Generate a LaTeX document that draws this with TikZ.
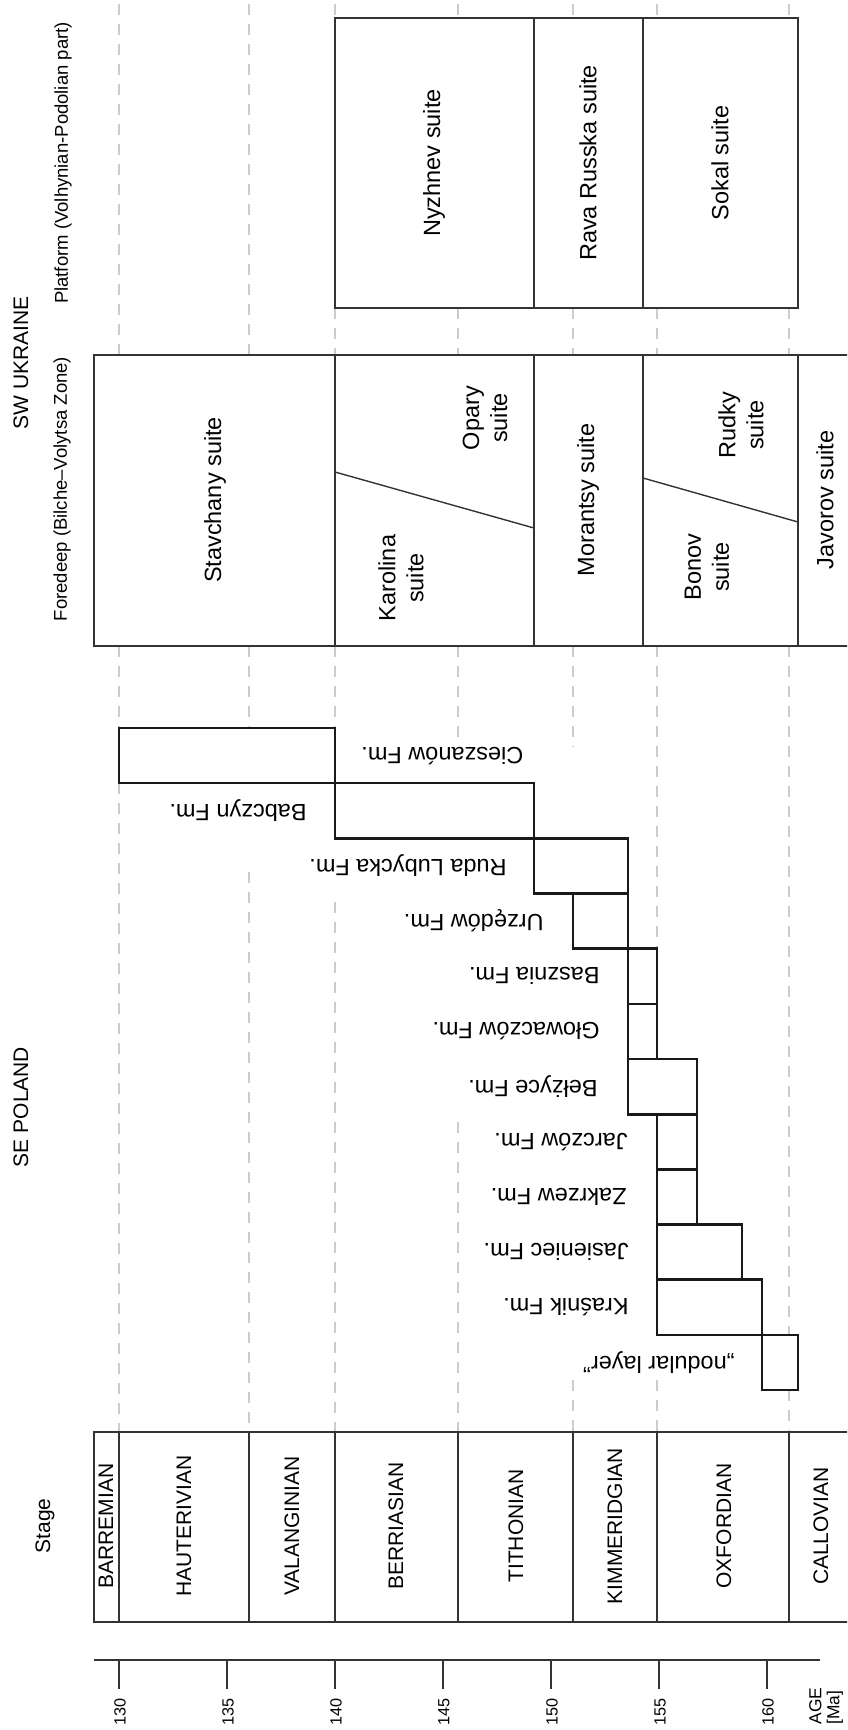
\documentclass[tikz,border=0pt]{standalone}
\usepackage{fontspec}
\setmainfont{Liberation Sans}

\def\stagefont{\fontsize{10.5}{12.6}\selectfont}
\def\suitefont{\fontsize{11.75}{14}\selectfont}
\def\headfont{\fontsize{10.5}{12.6}\selectfont}
\def\subfont{\fontsize{9.25}{11}\selectfont}
\def\agefont{\fontsize{8.1}{9}\selectfont}
\def\unitfont{\fontsize{8.7}{9}\selectfont}
\def\rowy#1{{728+55.17*(#1)}}
\colorlet{guide line}{black!20}
\colorlet{box edge}{black!80}
\tikzset{guide/.style={draw=guide line, line width=1.1pt, dash pattern=on 5.5pt off 4.5pt},
    outline/.style={draw=box edge, line width=0.7pt},
    fmbox/.style={draw=black!90, line width=1.3pt},
    vlabel/.style={rotate=90, inner sep=0pt, align=center},
    fmlabel/.style={rotate=180, inner sep=0pt, font=\suitefont}}

\begin{document}
\begin{tikzpicture}[x=0.5pt, y=-0.5pt]
        \useasboundingbox (0,0) rectangle (847,1730);
        \clip (0,0) rectangle (847,1730);

        % Guide lines at the stage boundaries
        \foreach \gx/\ga/\gb in {119/4/356, 119/646/728, 119/783/1432,
            249/4/356, 249/646/728, 249/872/1432,
            335/4/18, 335/308/356, 335/646/728, 335/902/1432,
            458/4/18, 458/308/356, 458/646/737, 458/1122/1432,
            573/4/18, 573/308/356, 573/646/747, 573/1380/1432,
            657/4/18, 657/308/356, 657/646/948, 657/1380/1432,
            789/4/18, 789/308/356, 789/646/1335, 789/1390/1432}
            \draw[guide] (\gx,\ga) -- (\gx,\gb);

        % Headings
        \node[vlabel, font=\headfont] (ukraine) at (21,363) {SW UKRAINE};
        \node[vlabel, font=\subfont] (platform) at (63,163) {Platform (Volhynian-Podolian part)};
        \node[vlabel, font=\subfont] (foredeep) at (62,489) {Foredeep (Bilche--Volytsa Zone)};
        \node[vlabel, font=\headfont] (poland) at (21,1107) {SE POLAND};
        \node[vlabel, font=\headfont] (stage) at (45,1526) {Stage};

        % SW Ukraine, platform
        \begin{scope}
            \draw[outline] (335,18) rectangle (798,308);
            \draw[outline] (534,18) -- (534,308) (643,18) -- (643,308);
            \node[vlabel, font=\suitefont] (nyzhnev) at (434,163) {Nyzhnev suite};
            \node[vlabel, font=\suitefont] (ravarusska) at (588,163) {Rava Russka suite};
            \node[vlabel, font=\suitefont] (sokal) at (720,163) {Sokal suite};
        \end{scope}

        % SW Ukraine, foredeep
        \begin{scope}
            \draw[outline] (94,355) rectangle (880,646);
            \foreach \dx in {335,534,643,798}
                \draw[outline] (\dx,355) -- (\dx,646);
            \draw[outline] (335,472) -- (534,528);
            \draw[outline] (643,478) -- (798,522);
            \node[vlabel, font=\suitefont] (stavchany) at (215,500) {Stavchany suite};
            \node[vlabel, font=\suitefont] (karolina) at (401,578) {Karolina\\suite};
            \node[vlabel, font=\suitefont] (opary) at (485,418) {Opary\\suite};
            \node[vlabel, font=\suitefont] (morantsy) at (588,500) {Morantsy suite};
            \node[vlabel, font=\suitefont] (bonov) at (707,567) {Bonov\\suite};
            \node[vlabel, font=\suitefont] (rudky) at (741,425) {Rudky\\suite};
            \node[vlabel, font=\suitefont] (javorov) at (825,500) {Javorov suite};
        \end{scope}

        % SE Poland, formations
        \foreach \i/\xa/\xb/\lx/\an/\nm/\txt in {0/119/335/361/east/cieszanow/Cieszanów Fm.,
            1/335/534/307/west/babczyn/Babczyn Fm.,
            2/534/628/507/west/rudalubycka/Ruda Lubycka Fm.,
            3/573/628/544/west/urzedow/Urzędów Fm.,
            4/628/657/600/west/basznia/Basznia Fm.,
            5/628/657/600/west/glowaczow/Głowaczów Fm.,
            6/628/697/598/west/belzyce/Bełżyce Fm.,
            7/657/697/628/west/jarczow/Jarczów Fm.,
            8/657/697/627/west/zakrzew/Zakrzew Fm.,
            9/657/742/629/west/jasieniec/Jasieniec Fm.,
            10/657/762/629/west/krasnik/Kraśnik Fm.,
            11/762/798/735/west/nodular/„nodular layer”}
        {
            \draw[fmbox] (\xa,\rowy{\i}) rectangle (\xb,\rowy{\i+1});
            \node[fmlabel, anchor=\an] (\nm) at (\lx,\rowy{\i+0.5}) {\txt};
        }

        % Stage column
        \draw[outline] (94,1432) rectangle (880,1622);
        \foreach \sx in {119,249,335,458,573,657,789}
            \draw[outline] (\sx,1432) -- (\sx,1622);
        \foreach \cx/\nm/\txt in {106/barremian/BARREMIAN, 184/hauterivian/HAUTERIVIAN,
            292/valanginian/VALANGINIAN, 396/berriasian/BERRIASIAN, 516/tithonian/TITHONIAN,
            615/kimmeridgian/KIMMERIDGIAN, 724/oxfordian/OXFORDIAN, 821/callovian/CALLOVIAN}
            \node[vlabel, font=\stagefont] (\nm) at (\cx,1526) {\txt};

        % Age axis
        \draw[outline] (94,1660) -- (820,1660);
        \foreach \a in {130,135,...,160} {
            \draw[outline] ({119+21.6*(\a-130)},1660) -- ++(0,29);
            \node[vlabel, font=\agefont] (age\a) at ({120+21.6*(\a-130)},1712) {\a};
        }
        \node[vlabel, font=\unitfont, align=left] (ageunit) at (826,1706) {AGE\\{}[Ma]};
    \end{tikzpicture}
\end{document}
